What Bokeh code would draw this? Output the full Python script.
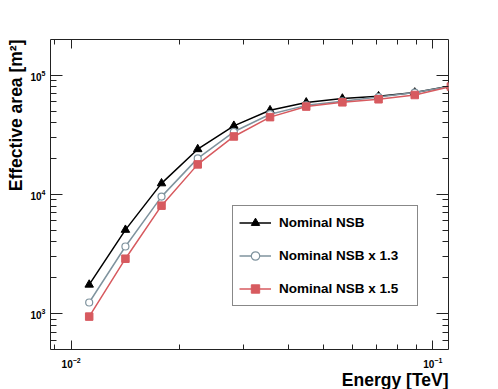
from bokeh.plotting import figure
from bokeh.models import LogAxis, FixedTicker, Range1d, Title
from bokeh.embed import file_html
from bokeh.resources import INLINE

# ---- data ----
energy = [0.01122, 0.01413, 0.01778, 0.02239, 0.02818, 0.03548,
          0.04467, 0.05623, 0.07079, 0.08913, 0.1122]
nominal = [1750, 5050, 12400, 24000, 37700, 50900, 59200, 63800, 66700, 71700, 81500]
nsb_13 = [1240, 3660, 9600, 20100, 33600, 47200, 56000, 60500, 65700, 71700, 81000]
nsb_15 = [944, 2890, 8060, 17900, 30700, 44600, 54700, 59400, 63000, 68400, 80500]

series_names = ["Nominal NSB", "Nominal NSB x 1.3", "Nominal NSB x 1.5"]

x_major = [0.01, 0.1]
x_minor = [0.009, 0.02, 0.03, 0.04, 0.05, 0.06, 0.07, 0.08, 0.09]
y_major = [1e3, 1e4, 1e5]
y_minor = [600, 700, 800, 900, 2000, 3000, 4000, 5000, 6000, 7000, 8000, 9000,
           20000, 30000, 40000, 50000, 60000, 70000, 80000, 90000]

x_title = "Energy [TeV]"
y_title = "Effective area [m\u00b2]"

FONT = "Liberation Sans"
BLACK = "#000000"
GRAY = "#7f939e"
RED = "#d75a5f"

p = figure(width=498, height=389, x_axis_type="log", y_axis_type="log",
           x_range=Range1d(0.00877, 0.1105), y_range=Range1d(500, 2e5),
           output_backend="svg", toolbar_location=None,
           min_border_left=50, min_border_right=50,
           min_border_top=39, min_border_bottom=40)
p.grid.visible = False
p.outline_line_color = "#222222"
p.outline_line_width = 1
p.background_fill_color = "white"
p.border_fill_color = "white"


def style_axis(ax, major, minor, tin, tmin, show_labels):
    ax.ticker = FixedTicker(ticks=major, minor_ticks=minor)
    ax.major_tick_in = tin
    ax.major_tick_out = 0
    ax.minor_tick_in = tmin
    ax.minor_tick_out = 0
    ax.major_tick_line_color = "#222222"
    ax.minor_tick_line_color = "#222222"
    ax.axis_line_color = None
    ax.major_label_text_font = FONT
    ax.major_label_text_font_style = "bold"
    ax.major_label_text_font_size = "10px"
    ax.major_label_text_color = BLACK if show_labels else None


xb = p.xaxis[0]
style_axis(xb, x_major, x_minor, 9, 5, True)
xb.major_label_standoff = 7

yl = p.yaxis[0]
style_axis(yl, y_major, y_minor, 12, 6, True)
yl.major_label_standoff = 5

xt = LogAxis()
style_axis(xt, x_major, x_minor, 9, 5, False)
p.add_layout(xt, "above")
yr = LogAxis()
style_axis(yr, y_major, y_minor, 12, 6, False)
p.add_layout(yr, "right")

# axis titles as side-panel titles (right/top aligned like the reference)
p.add_layout(Title(text=x_title, align="right", standoff=-5,
                   text_font=FONT, text_font_style="bold",
                   text_font_size="17.5px", text_color=BLACK), "below")
p.add_layout(Title(text=y_title, align="right", standoff=4,
                   text_font=FONT, text_font_style="bold",
                   text_font_size="17.5px", text_color=BLACK), "left")

# ---- series ----
p.line(energy, nominal, line_color=BLACK, line_width=1.5, legend_label=series_names[0])
p.scatter(energy, nominal, marker="triangle", size=8.5, line_color=BLACK,
          fill_color=BLACK, legend_label=series_names[0])

p.line(energy, nsb_13, line_color=GRAY, line_width=1.5, legend_label=series_names[1])
p.scatter(energy, nsb_13, marker="circle", size=7, line_color=GRAY,
          fill_color="white", line_width=1.2, legend_label=series_names[1])

p.line(energy, nsb_15, line_color=RED, line_width=1.5, legend_label=series_names[2])
p.scatter(energy, nsb_15, marker="square", size=7.5, line_color=RED,
          fill_color=RED, legend_label=series_names[2])

# ---- legend ----
lg = p.legend[0]
lg.location = (182, 43)
lg.margin = 0
lg.padding = 6
lg.spacing = 12
lg.glyph_width = 32
lg.glyph_height = 21
lg.label_height = 21
lg.label_width = 132
lg.label_standoff = 8
lg.label_text_font = FONT
lg.label_text_font_style = "bold"
lg.label_text_font_size = "13.5px"
lg.label_text_color = BLACK
lg.border_line_color = "#111111"
lg.border_line_width = 1
lg.background_fill_color = "white"
lg.background_fill_alpha = 1.0

open("out.html", "w").write(file_html(p, INLINE))
